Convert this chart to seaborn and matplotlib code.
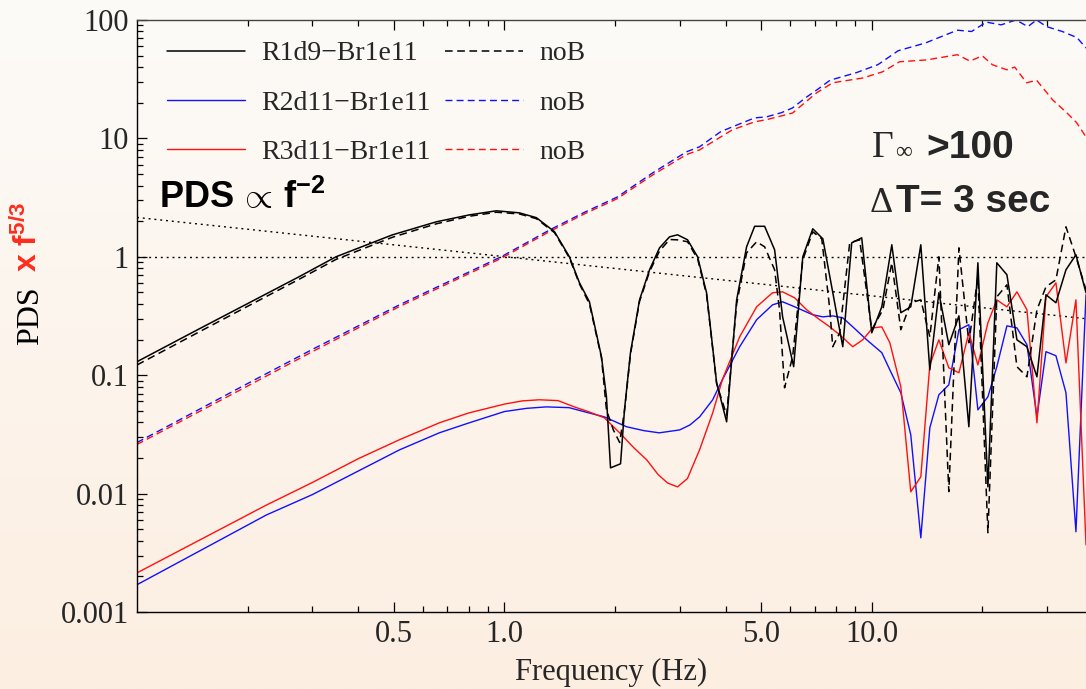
import numpy as np
import matplotlib
matplotlib.use("Agg")
import matplotlib.pyplot as plt
import seaborn as sns
from matplotlib.lines import Line2D
from matplotlib.ticker import FixedLocator, FixedFormatter, LogLocator, NullFormatter

# ---------------- data ----------------
r1_f = [0.1, 0.1476, 0.202, 0.276, 0.348, 0.495, 0.653, 0.803, 0.951, 1.099, 1.222, 1.369, 1.503, 1.601,
        1.704, 1.838, 1.896, 1.945, 2.071, 2.123, 2.204, 2.333, 2.484, 2.645, 2.816, 2.961, 3.152, 3.357,
        3.551, 3.782, 4.027, 4.288, 4.564, 4.80, 5.11, 5.44, 5.72, 6.13, 6.49, 6.91, 7.36, 8.34, 8.82, 9.39,
        10.0, 10.65, 11.34, 12.0, 12.77, 13.60, 14.39, 15.23, 16.21, 17.27, 18.38, 19.45, 20.71, 21.90,
        23.33, 24.84, 26.45, 28.16, 29.80, 31.72, 33.78, 35.96, 38.3]
r1_v = [0.13, 0.246, 0.409, 0.678, 1.0, 1.53, 1.975, 2.26, 2.446, 2.35, 2.14, 1.63, 1.0, 0.603, 0.417,
        0.143, 0.0657, 0.0165, 0.01785, 0.051, 0.155, 0.433, 0.777, 1.191, 1.475, 1.534, 1.392, 1.0, 0.497,
        0.0863, 0.0404, 0.433, 1.215, 1.81, 1.81, 1.146, 0.311, 0.118, 1.0, 1.724, 1.419, 0.174, 1.313,
        1.447, 0.228, 0.378, 1.263, 0.337, 0.378, 1.263, 0.111, 0.497, 0.181, 0.317, 0.0367, 0.890, 0.0114,
        0.890, 0.705, 0.199, 0.174, 0.0969, 0.478, 0.409, 0.777, 1.04, 0.497]

r1n_f = [0.1, 0.1476, 0.202, 0.276, 0.348, 0.495, 0.653, 0.803, 0.951, 1.099, 1.222, 1.369, 1.503, 1.601,
         1.704, 1.838, 1.896, 1.98, 2.06, 2.123, 2.204, 2.333, 2.484, 2.645, 2.816, 2.961, 3.152, 3.357,
         3.551, 3.782, 4.027, 4.288, 4.564, 4.86, 5.11, 5.44, 5.61, 5.79, 6.09, 6.49, 6.91, 7.31, 7.69, 7.83,
         8.18, 8.71, 9.27, 10.0, 10.72, 11.34, 12.0, 12.77, 13.60, 14.39, 15.23, 16.21, 17.27, 18.38, 19.45,
         20.71, 21.90, 23.33, 24.84, 26.45, 28.16, 29.80, 31.72, 33.78, 35.96, 38.3]
r1n_v = [0.122, 0.232, 0.388, 0.645, 0.95, 1.46, 1.90, 2.2, 2.38, 2.30, 2.10, 1.60, 0.98, 0.59, 0.40,
         0.14, 0.051, 0.0345, 0.027, 0.05, 0.15, 0.42, 0.75, 1.12, 1.40, 1.39, 1.34, 0.96, 0.48, 0.085,
         0.046, 0.40, 1.08, 1.339, 1.215, 0.777, 0.357, 0.0783, 0.143, 0.943, 1.626, 1.419, 0.357, 0.174,
         0.228, 1.313, 1.392, 0.242, 0.357, 0.890, 0.242, 0.409, 0.433, 0.211, 1.0, 0.0104, 1.19, 0.188,
         0.678, 0.00467, 0.459, 0.580, 0.118, 0.0969, 0.357, 0.558, 0.639, 1.792, 1.0, 0.526]

r2_f = [0.1, 0.225, 0.3, 0.4, 0.518, 0.665, 0.8, 1.0, 1.15, 1.30, 1.5, 1.70, 1.87, 2.15, 2.4, 2.64, 3.0,
        3.2, 3.4, 3.69, 3.92, 4.37, 4.86, 5.37, 5.72, 6.17, 6.91, 7.36, 7.83, 8.34, 8.88, 9.69, 10.65, 11.2,
        12.0, 12.77, 13.60, 14.39, 15.23, 16.21, 17.27, 18.38, 19.45, 20.71, 21.90, 23.33, 24.84, 26.45,
        28.16, 29.80, 31.72, 33.78, 35.96, 38.3]
r2_v = [0.0017, 0.0066, 0.0098, 0.0155, 0.0234, 0.0326, 0.0395, 0.0493, 0.0525, 0.054, 0.0532, 0.048,
        0.0445, 0.0367, 0.034, 0.0326, 0.0345, 0.038, 0.0445, 0.062, 0.0915, 0.174, 0.294, 0.393, 0.417,
        0.378, 0.324, 0.311, 0.317, 0.305, 0.256, 0.199, 0.155, 0.111, 0.071, 0.0314, 0.00423, 0.0359,
        0.0683, 0.083, 0.242, 0.267, 0.051, 0.0657, 0.118, 0.261, 0.251, 0.181, 0.0445, 0.158, 0.146,
        0.071, 0.00476, 0.478]

r2n_f = [0.1, 0.2, 0.3, 0.518, 0.98, 1.33, 1.64, 2.03, 2.53, 3.13, 3.40, 3.88, 4.17, 4.80, 5.17, 5.68,
         6.09, 6.60, 7.08, 7.7, 9.1, 10.4, 11.8, 14.0, 17.1, 18.7, 20.5, 22.5, 24.7, 26.6, 28.1, 29.9, 33.0,
         36.2, 38.3]
r2n_v = [0.027, 0.085, 0.165, 0.393, 1.0, 1.69, 2.35, 3.2, 5.1, 7.7, 8.5, 11.4, 12.5, 14.9, 15.2, 16.5,
         18.1, 22.0, 25.6, 31, 36, 42, 55, 64, 82, 80, 96, 91, 100, 88, 100, 88, 80, 71, 58]

r3_f = [0.1, 0.225, 0.3, 0.4, 0.518, 0.665, 0.8, 1.0, 1.12, 1.245, 1.4, 1.55, 1.70, 1.87, 2.06, 2.25,
        2.44, 2.62, 2.78, 2.96, 3.15, 3.40, 3.69, 3.92, 4.37, 4.86, 5.37, 5.72, 6.17, 6.65, 7.22, 7.69,
        8.18, 8.88, 9.45, 10.06, 10.65, 11.2, 12.0, 12.77, 13.60, 14.39, 15.23, 16.21, 17.27, 18.38, 19.45,
        20.71, 21.90, 23.33, 24.84, 26.45, 28.16, 29.80, 31.72, 33.78, 35.96, 38.3]
r3_v = [0.00214, 0.0080, 0.0124, 0.0197, 0.0285, 0.0396, 0.048, 0.057, 0.0607, 0.062, 0.061, 0.054,
        0.049, 0.0437, 0.0326, 0.0244, 0.0193, 0.0145, 0.0123, 0.0114, 0.0134, 0.0235, 0.048, 0.0915,
        0.211, 0.378, 0.497, 0.506, 0.450, 0.357, 0.294, 0.256, 0.219, 0.174, 0.199, 0.251, 0.256, 0.188,
        0.0798, 0.01036, 0.01386, 0.122, 0.199, 0.1155, 0.1048, 0.228, 0.122, 0.277, 0.433, 0.378, 0.506,
        0.357, 0.0396, 0.459, 0.603, 0.127, 0.433, 0.0037]

r3n_f = [0.1, 0.2, 0.3, 0.518, 0.98, 1.33, 1.64, 2.03, 2.53, 3.13, 3.40, 4.17, 4.80, 5.17, 5.68, 6.09,
         7.08, 7.83, 9.47, 10.7, 11.9, 14.1, 17.1, 18.5, 20.0, 21.3, 23.3, 24.5, 26.4, 28.1, 31.1, 34.0,
         36.1, 38.3]
r3n_v = [0.026, 0.081, 0.158, 0.38, 0.97, 1.64, 2.28, 3.1, 4.9, 7.3, 8.0, 11.8, 13.8, 14.4, 15.5, 16.4,
         24.3, 29.5, 32.4, 36.5, 44.4, 46.0, 50.9, 45, 49.8, 41.9, 38, 40, 29.5, 31, 21.1, 16.4, 13.6, 10.3]

ref_f = [0.1, 38.3]          # PDS ~ f^-2 guide (times f^5/3)
ref_v = [2.15, 0.30]
flat_f = [0.1, 38.3]
flat_v = [1.0, 1.0]

legend_labels = ["R1d9\u2212Br1e11", "R2d11\u2212Br1e11", "R3d11\u2212Br1e11", "noB", "noB", "noB"]
ytick_vals = [0.001, 0.01, 0.1, 1, 10, 100]
ytick_labels = ["0.001", "0.01", "0.1", "1", "10", "100"]
xtick_vals = [0.5, 1.0, 5.0, 10.0]
xtick_labels = ["0.5", "1.0", "5.0", "10.0"]
xminor_vals = [0.2, 0.3, 0.4, 0.6, 0.7, 0.8, 0.9, 2, 3, 4, 6, 7, 8, 9, 20, 30]

# ---------------- style ----------------
sns.set_style("ticks")
plt.rcParams["font.family"] = ["Liberation Serif", "DejaVu Serif"]
plt.rcParams["mathtext.fontset"] = "custom"
plt.rcParams["mathtext.rm"] = "Liberation Sans"
plt.rcParams["mathtext.bf"] = "Liberation Sans:bold"
plt.rcParams["mathtext.it"] = "Liberation Sans:italic"
plt.rcParams["mathtext.sf"] = "Liberation Sans"

W, H = 1086, 689
fig = plt.figure(figsize=(W / 100, H / 100), dpi=100)

# background gradient
bg = fig.add_axes([0, 0, 1, 1], zorder=-10)
top_c = np.array([253, 251, 248]) / 255
bot_c = np.array([252, 238, 225]) / 255
t = np.linspace(0, 1, 256)[:, None, None]
img = top_c[None, None, :] + (bot_c - top_c)[None, None, :] * t
bg.imshow(img, aspect="auto", extent=[0, 1, 0, 1], origin="upper")
bg.set_axis_off()

x0, x1, ytop, ybot = 137, 1086, 20, 612
ax = fig.add_axes([x0 / W, 1 - ybot / H, (x1 - x0) / W, (ybot - ytop) / H])
ax.set_facecolor("none")
ax.set_xscale("log")
ax.set_yscale("log")

BLUE = "#1010FF"
RED = "#FF1010"
dash_k = (0, (5, 3))
dash_c = (0, (5, 3))
dot = (0, (1.4, 2.8))

def draw(f, v, color, ls, lw):
    sns.lineplot(x=f, y=v, ax=ax, color=color, linestyle=ls, linewidth=lw,
                 sort=False, estimator=None, legend=False)

draw(flat_f, flat_v, "black", dot, 1.0)
draw(ref_f, ref_v, "black", dot, 1.0)
draw(r2n_f, r2n_v, BLUE, dash_c, 1.0)
draw(r3n_f, r3n_v, RED, dash_c, 1.0)
draw(r2_f, r2_v, BLUE, "-", 1.0)
draw(r3_f, r3_v, RED, "-", 1.0)
draw(r1n_f, r1n_v, "black", dash_k, 1.1)
draw(r1_f, r1_v, "black", "-", 1.1)

ax.set_xlim(0.1, 38.3)
ax.set_ylim(0.001, 100)

ax.xaxis.set_major_locator(FixedLocator(xtick_vals))
ax.xaxis.set_major_formatter(FixedFormatter(xtick_labels))
ax.xaxis.set_minor_locator(FixedLocator(xminor_vals))
ax.xaxis.set_minor_formatter(NullFormatter())
ax.yaxis.set_major_locator(FixedLocator(ytick_vals))
ax.yaxis.set_major_formatter(FixedFormatter(ytick_labels))
ax.yaxis.set_minor_locator(LogLocator(base=10, subs=np.arange(2, 10)))
ax.yaxis.set_minor_formatter(NullFormatter())

ax.tick_params(which="both", direction="in", top=True, right=False, color="black", width=0.9)
ax.tick_params(which="major", length=7, labelsize=22, pad=6)
ax.tick_params(which="minor", length=4)
for lab in ax.get_xticklabels() + ax.get_yticklabels():
    lab.set_family("Liberation Serif")

for s in ["left", "bottom"]:
    ax.spines[s].set_color("black")
    ax.spines[s].set_linewidth(1.0)
ax.spines["top"].set_color("#444444")
ax.spines["top"].set_linewidth(1.0)
ax.spines["right"].set_visible(False)

ax.set_xlabel("Frequency (Hz)", fontsize=22, family="Liberation Serif")
ax.xaxis.set_label_coords(0.5, -0.078)
ax.set_ylabel("")

# legend
handles = [Line2D([], [], color="black", lw=1.1),
           Line2D([], [], color=BLUE, lw=1.0),
           Line2D([], [], color=RED, lw=1.0),
           Line2D([], [], color="black", lw=1.1, linestyle=dash_k),
           Line2D([], [], color=BLUE, lw=1.0, linestyle=dash_c),
           Line2D([], [], color=RED, lw=1.0, linestyle=dash_c)]
ax.legend(handles, legend_labels, ncol=2, loc="upper left",
          bbox_to_anchor=((167 - x0) / (x1 - x0), (ybot - 41) / (ybot - ytop)),
          frameon=False, prop={"family": "Liberation Serif", "size": 20},
          handlelength=2.8, handletextpad=0.6, columnspacing=0.5, labelspacing=0.86,
          borderaxespad=0, borderpad=0)

def ftext(px, py, s, **kw):
    fig.text(px / W, 1 - py / H, s, **kw)

# y label: "PDS" black serif + red bold sans "x f^5/3"
ftext(31, 345, "PDS", rotation=90, ha="center", va="bottom", fontsize=23, family="Liberation Serif",
      color="black")
ftext(28, 272, r"$\mathbf{x\ f^{5/3}}$", rotation=90, ha="center", va="bottom", fontsize=23,
      color="#FF2D1E")

# annotations
ftext(159, 208, r"$\mathbf{PDS}\,\propto\,\mathbf{f^{-2}}$", fontsize=26, color="black", va="baseline")
ftext(872, 157, "\u0393", fontsize=27, family="Liberation Serif", va="baseline")
ftext(895, 158, "\u221e", fontsize=17, family=["Liberation Serif", "DejaVu Serif"], va="baseline")
ftext(926, 158, ">100", fontsize=28, family="Liberation Sans", weight="bold", va="baseline")
ftext(870, 212, "\u0394", fontsize=26, family="Liberation Serif", va="baseline")
ftext(896, 212, "T= 3 sec", fontsize=28, family="Liberation Sans", weight="bold", va="baseline")

fig.savefig("out.png", dpi=100)
